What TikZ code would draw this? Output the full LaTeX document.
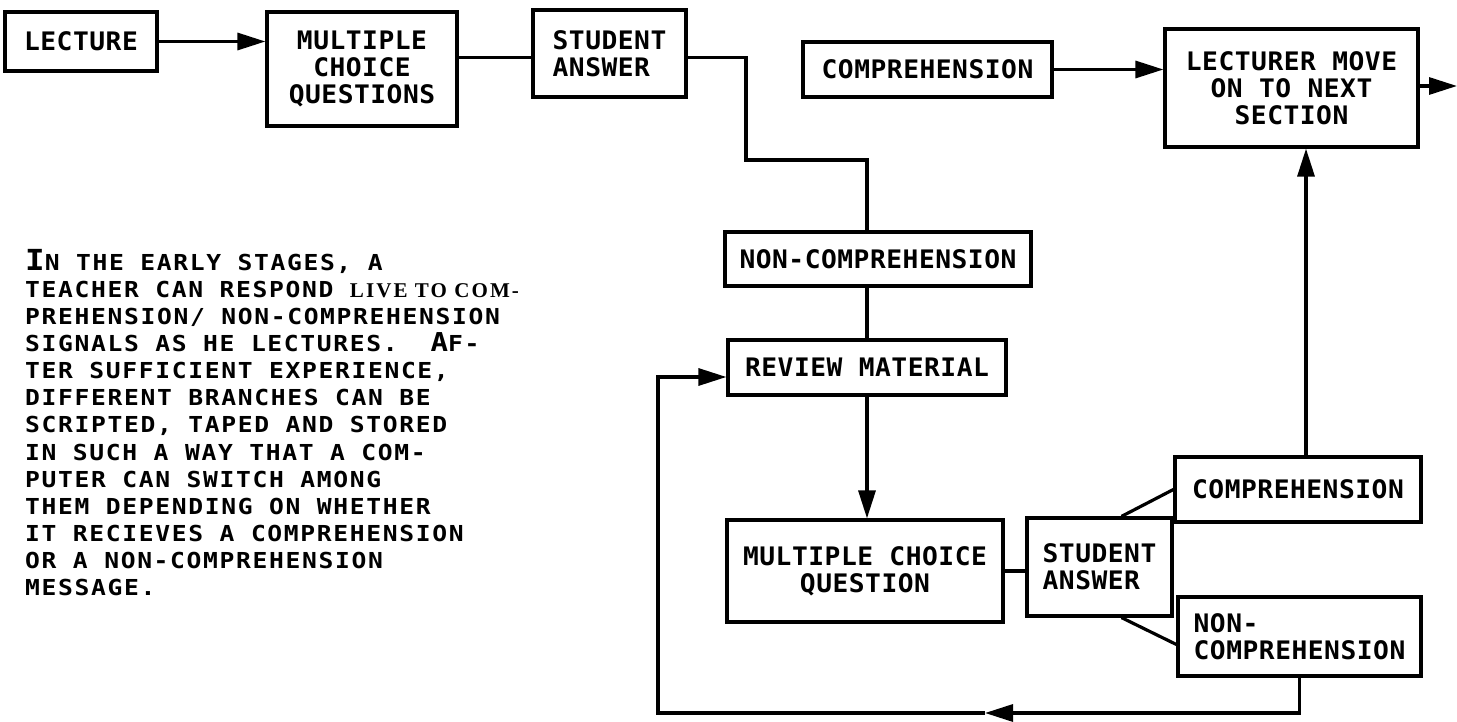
\documentclass[tikz,border=0pt]{standalone}
\usepackage{fontspec}
\usetikzlibrary{arrows.meta}
\newfontfamily\boxfont[FakeStretch=1.03,LetterSpace=2]{DejaVu Sans Mono}
\newfontfamily\notefont[FakeStretch=1.12,LetterSpace=7.5]{DejaVu Sans Mono}
\newfontfamily\handfont[LetterSpace=10]{Liberation Serif}
\tikzstyle{block} = [rectangle, draw, line width=3.2pt, fill=white, inner sep=0pt, align=center,
    font=\boxfont\bfseries\fontsize{25.5}{27}\selectfont]
\tikzstyle{line} = [draw, line width=3.2pt, -{Triangle[length=28pt,width=17pt]}]
\tikzstyle{link} = [draw, line width=3.2pt]
\tikzstyle{note} = [inner sep=0pt, align=left, anchor=north west,
    font=\notefont\bfseries\fontsize{22}{27.1}\selectfont]
\begin{document}
\begin{tikzpicture}[x=1pt,y=-1pt]
      \useasboundingbox (0,0) rectangle (1457,722);
      % top row
      \node [block, minimum width=152pt, minimum height=59pt] (lecture) at (81,41.5) {LECTURE};
      \node [block, minimum width=190pt, minimum height=114pt] (mcq) at (362,69) {MULTIPLE\\CHOICE\\QUESTIONS};
      \node [block, align=left, minimum width=153pt, minimum height=87pt] (answer) at (609.5,53.5) {STUDENT\\ANSWER};
      \node [block, minimum width=249pt, minimum height=55pt] (comp) at (927.5,69.5) {COMPREHENSION};
      \node [block, minimum width=253pt, minimum height=118pt] (moveon) at (1291.5,88) {LECTURER MOVE\\ON TO NEXT\\SECTION};

      % right column
      \node [block, minimum width=306pt, minimum height=54pt] (noncomp) at (878,259) {NON-COMPREHENSION};
      \node [block, minimum width=278pt, minimum height=55pt] (review) at (867,367.5) {REVIEW MATERIAL};
      \node [block, minimum width=276pt, minimum height=102pt] (mcqb) at (865,571) {MULTIPLE CHOICE\\QUESTION};
      \node [block, align=left, minimum width=145pt, minimum height=98pt] (answerb) at (1099.5,567) {STUDENT\\ANSWER};
      \node [block, minimum width=246pt, minimum height=65pt] (compb) at (1298,489.5) {COMPREHENSION};
      \node [block, align=left, minimum width=243pt, minimum height=79pt] (noncompb) at (1299.5,636.5) {NON-\\COMPREHENSION};

      \node [note] (remark) at (25,249) {{\fontsize{29}{27.1}\selectfont I}N THE EARLY STAGES, A\\
        TEACHER CAN RESPOND {\handfont\fontsize{21}{27.1}\selectfont LIVE TO COM-}\\
        PREHENSION/ NON-COMPREHENSION\\
        SIGNALS AS HE LECTURES.~~{\fontsize{26}{27.1}\selectfont A}F-\\
        TER SUFFICIENT EXPERIENCE,\\
        DIFFERENT BRANCHES CAN BE\\
        SCRIPTED, TAPED AND STORED\\
        IN SUCH A WAY THAT A COM-\\
        PUTER CAN SWITCH AMONG\\
        THEM DEPENDING ON WHETHER\\
        IT RECIEVES A COMPREHENSION\\
        OR A NON-COMPREHENSION\\
        MESSAGE.};

      \coordinate (a1) at ([yshift=-4pt]answer.west);
      \coordinate (a2) at ([yshift=-4pt]answer.east);
      \coordinate (bend) at (746,160);
      \coordinate (up) at ([xshift=8pt]compb.north);
      \coordinate (next) at (1457,86);
      \coordinate (back) at (985,713);
      \coordinate (corner) at (658,713);
      \coordinate (entry) at ([yshift=-9.5pt]review.west);

      \path [line] (lecture.east) -- (lecture.east -| mcq.west);
      \path [link] (a1 -| mcq.east) -- (a1);
      \path [link] (a2) -| (bend) -| (noncomp.north -| review.north);
      \path [line] (comp.east) -- (comp.east -| moveon.west);
      \path [line] (moveon.east |- next) -- (next);

      \path [link] (noncomp.south -| review.north) -- (review.north);
      \path [line] (review.south) -- (review.south |- mcqb.north);
      \path [link] (mcqb.east) -- (mcqb.east -| answerb.west);
      \path [link] ([xshift=22pt]answerb.north) -- (compb.west);
      \path [link] ([xshift=22pt]answerb.south) -- ([yshift=-8pt]noncompb.west);
      \path [line] (up) -- (up |- moveon.south);

      \path [line] (noncompb.south) |- (back);
      \path [line] (back) -- (corner) |- (entry);
\end{tikzpicture}
\end{document}
